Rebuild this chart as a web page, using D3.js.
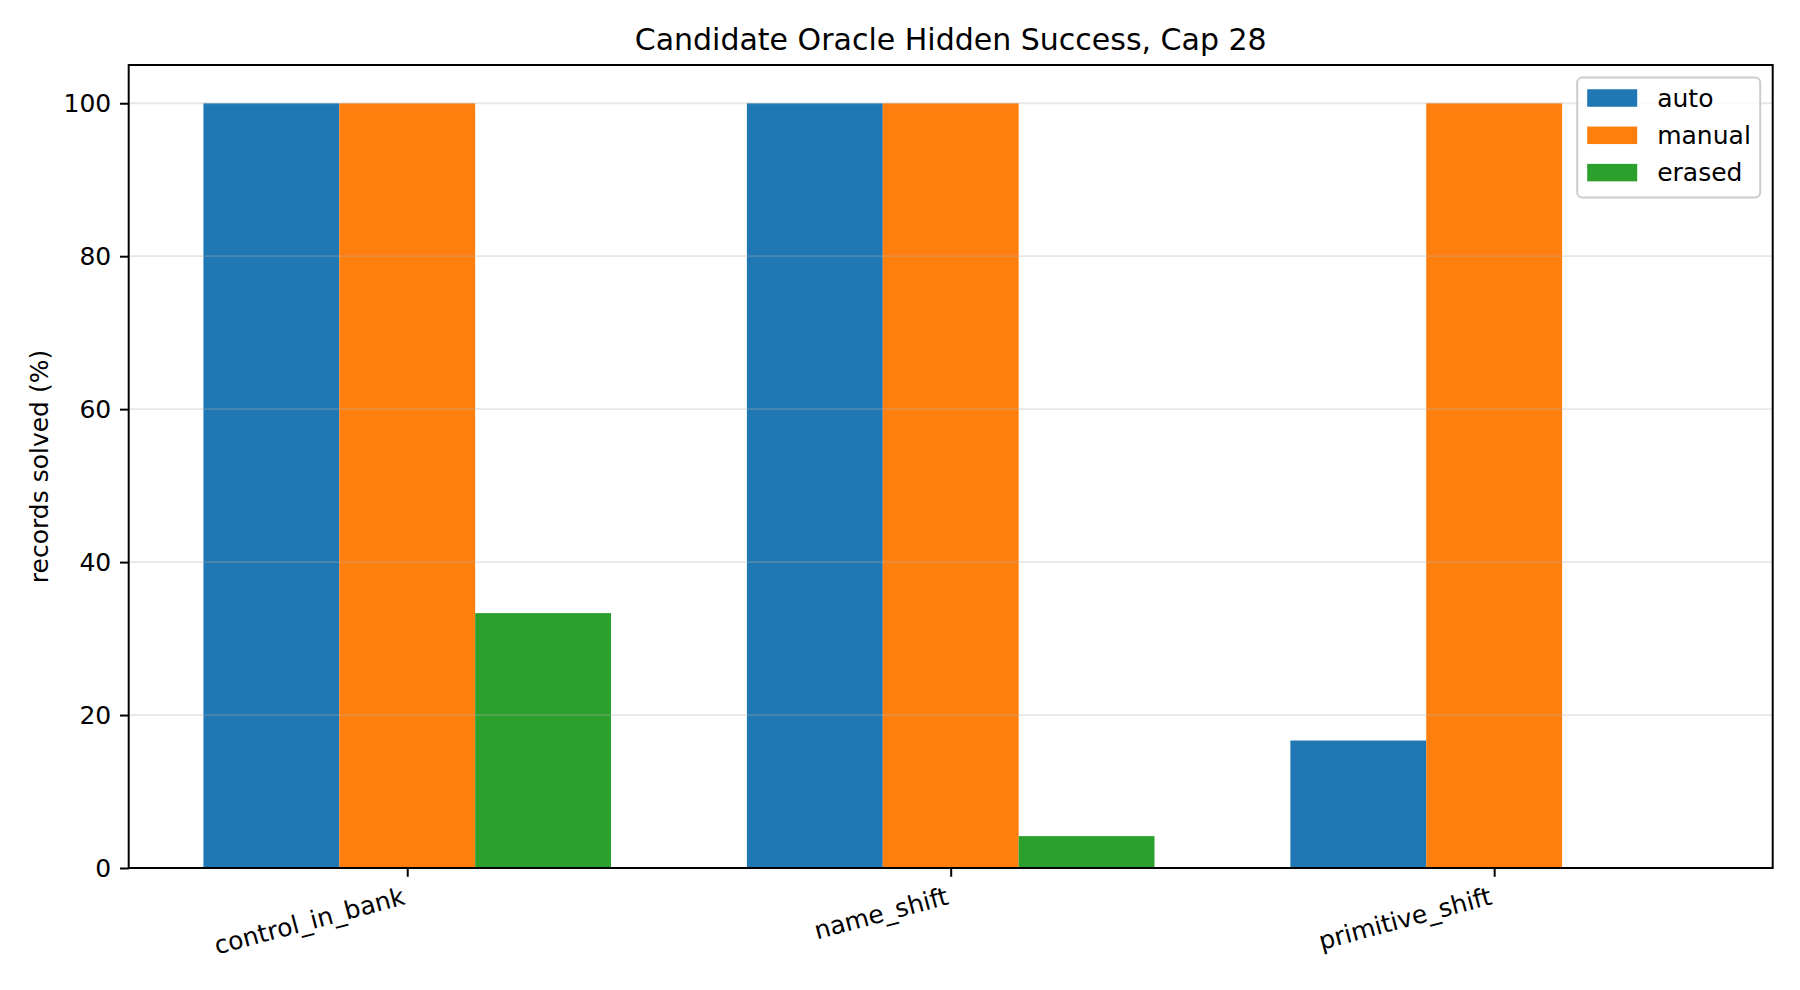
<!DOCTYPE html>
<html>
<head>
<meta charset="utf-8">
<script src="https://cdn.jsdelivr.net/npm/d3@7"></script>
<style>
  body { margin: 0; background: #fff; }
  svg { display: block; font-family: "DejaVu Sans", sans-serif; }
</style>
</head>
<body>
<svg id="chart"></svg>
<script>
var categories = ["control_in_bank", "name_shift", "primitive_shift"];
var seriesNames = ["auto", "manual", "erased"];
var autoValues = [100, 100, 16.67];
var manualValues = [100, 100, 100];
var erasedValues = [33.33, 4.17, 0];
var yTicks = [0, 20, 40, 60, 80, 100];
var colors = ["#1f77b4", "#ff7f0e", "#2ca02c"];

var seriesValues = [autoValues, manualValues, erasedValues];

var width = 1800,
    height = 990;

var margin = {top: 65, right: 27.3, bottom: 122, left: 128.7},
    innerwidth = width - margin.left - margin.right,
    innerheight = height - margin.top - margin.bottom;

var barWidth = 0.25;

var svg = d3.select("#chart")
    .attr("width", width)
    .attr("height", height);

svg.append("rect")
    .attr("width", width)
    .attr("height", height)
    .attr("fill", "#fff");

var g = svg.append("g")
    .attr("transform", "translate(" + margin.left + "," + margin.top + ")");

// matplotlib style limits: 5% margin round the bars
var xmin = -0.5 * barWidth * 3,
    xmax = categories.length - 1 + 0.5 * barWidth * 3,
    xpad = (xmax - xmin) * 0.05;

var x = d3.scaleLinear()
    .domain([xmin - xpad, xmax + xpad])
    .range([0, innerwidth]);

var y = d3.scaleLinear()
    .domain([0, 105])
    .range([innerheight, 0]);

// bars
var bars = [];
seriesValues.forEach(function(vals, j) {
    vals.forEach(function(v, i) {
        bars.push({cat: i, s: j, value: v});
    });
});

g.selectAll("rect.bar")
    .data(bars)
    .enter().append("rect")
    .attr("class", "bar")
    .attr("x", function(d) { return x(d.cat + (d.s - 1) * barWidth - barWidth / 2); })
    .attr("width", function(d) { return x(barWidth) - x(0); })
    .attr("y", function(d) { return y(d.value); })
    .attr("height", function(d) { return y(0) - y(d.value); })
    .attr("fill", function(d) { return colors[d.s]; });

// grid on top of bars, as matplotlib does
g.selectAll("line.grid")
    .data(yTicks)
    .enter().append("line")
    .attr("class", "grid")
    .attr("x1", 0)
    .attr("x2", innerwidth)
    .attr("y1", function(d) { return y(d); })
    .attr("y2", function(d) { return y(d); })
    .attr("stroke", "#b0b0b0")
    .attr("stroke-opacity", 0.3)
    .attr("stroke-width", 1.8);

// axes
var yAxis = d3.axisLeft(y)
    .tickValues(yTicks)
    .tickSize(8.75)
    .tickPadding(8.75)
    .tickSizeOuter(0);

var xAxis = d3.axisBottom(x)
    .tickValues(d3.range(categories.length))
    .tickFormat(function(i) { return categories[i]; })
    .tickSize(8.75)
    .tickPadding(0)
    .tickSizeOuter(0);

var ya = g.append("g")
    .attr("class", "y axis")
    .call(yAxis);
ya.select(".domain").remove();
ya.selectAll(".tick line").attr("stroke", "#000").attr("stroke-width", 2);
ya.selectAll(".tick text")
    .attr("font-size", 25)
    .attr("fill", "#000")
    .attr("font-family", "DejaVu Sans");

var xa = g.append("g")
    .attr("class", "x axis")
    .attr("transform", "translate(0," + innerheight + ")")
    .call(xAxis);
xa.select(".domain").remove();
xa.selectAll(".tick line").attr("stroke", "#000").attr("stroke-width", 2);
xa.selectAll(".tick text")
    .attr("font-size", 25)
    .attr("fill", "#000")
    .attr("font-family", "DejaVu Sans")
    .attr("text-anchor", "end")
    .attr("dy", null)
    .attr("y", null)
    .attr("transform", "translate(-1.5," + (17.5 + 18.4) + ") rotate(-15)");

// spines
g.append("rect")
    .attr("width", innerwidth)
    .attr("height", innerheight)
    .attr("fill", "none")
    .attr("stroke", "#000")
    .attr("stroke-width", 2);

// title and label
svg.append("text")
    .attr("x", margin.left + innerwidth / 2)
    .attr("y", margin.top - 15)
    .attr("text-anchor", "middle")
    .attr("font-size", 30)
    .text("Candidate Oracle Hidden Success, Cap 28");

svg.append("text")
    .attr("transform", "translate(47.6," + (margin.top + innerheight / 2) + ") rotate(-90)")
    .attr("text-anchor", "middle")
    .attr("font-size", 25)
    .text("records solved (%)");

// legend
var legend = g.append("g")
    .attr("transform", "translate(" + (innerwidth - 12.5 - 183) + ",12.5)");

legend.append("rect")
    .attr("width", 183)
    .attr("height", 120)
    .attr("rx", 5)
    .attr("fill", "#fff")
    .attr("fill-opacity", 0.8)
    .attr("stroke", "#cccccc")
    .attr("stroke-width", 2);

var items = legend.selectAll("g.item")
    .data(seriesNames)
    .enter().append("g")
    .attr("class", "item")
    .attr("transform", function(d, i) { return "translate(10," + (20.5 + i * 37.3) + ")"; });

items.append("rect")
    .attr("y", -8.75)
    .attr("width", 50)
    .attr("height", 17.5)
    .attr("fill", function(d, i) { return colors[i]; });

items.append("text")
    .attr("x", 70)
    .attr("dy", "0.35em")
    .attr("font-size", 25)
    .text(function(d) { return d; });
</script>
</body>
</html>
